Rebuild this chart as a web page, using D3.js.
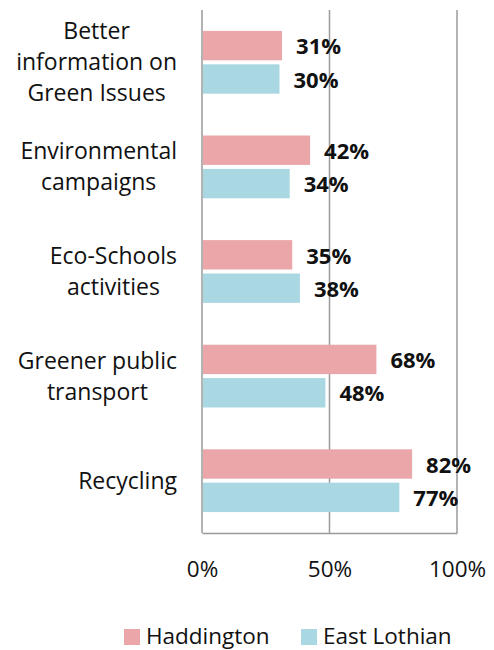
<!DOCTYPE html>
<html>
<head>
<meta charset="utf-8">
<script src="https://cdn.jsdelivr.net/npm/d3@7"></script>
<style>
  html, body { margin: 0; padding: 0; background: #fff; }
  text { font-family: "Open Sans", sans-serif; fill: #111; }
</style>
</head>
<body>
<svg id="chart" width="494" height="650"></svg>
<script>
// Categories (each line of a label is one entry)
const categories = [
  ["Better", "information on", "Green Issues"],
  ["Environmental", "campaigns"],
  ["Eco-Schools", "activities"],
  ["Greener public", "transport"],
  ["Recycling"]
];
const seriesNames = ["Haddington", "East Lothian"];
const haddington = [31, 42, 35, 68, 82];
const eastLothian = [30, 34, 38, 48, 77];
const xTicks = [0, 50, 100];
const colors = ["#EAA6A8", "#A9D8E2"];

const svg = d3.select("#chart");
const margin = { top: 10, left: 202, right: 37, bottom: 117 };
const W = 494, H = 650;
const x = d3.scaleLinear().domain([0, 100]).range([margin.left, W - margin.right]);
const y = d3.scaleBand().domain(d3.range(categories.length))
  .range([margin.top, H - margin.bottom]).paddingInner(0.4).paddingOuter(0.2);
const ySub = d3.scaleBand().domain([0, 1]).range([0, y.bandwidth()]).paddingInner(0.12);

// Vertical gridlines
svg.append("g").selectAll("line").data(xTicks).join("line")
  .attr("x1", d => x(d)).attr("x2", d => x(d))
  .attr("y1", margin.top).attr("y2", H - margin.bottom)
  .attr("stroke", "#9a9a9a").attr("stroke-width", 1.5);

// Bottom axis
const xAxis = svg.append("g")
  .attr("transform", `translate(0,${H - margin.bottom})`)
  .call(d3.axisBottom(x).tickValues(xTicks).tickFormat(d => d + "%").tickSize(0));
xAxis.select(".domain").attr("stroke", "#9a9a9a").attr("stroke-width", 1.5);
xAxis.selectAll("text")
  .attr("y", 44).attr("dy", 0)
  .attr("font-size", 22.5).attr("font-family", "Open Sans, sans-serif").attr("fill", "#111");

const series = [haddington, eastLothian];
series.forEach((vals, s) => {
  const g = svg.append("g");
  g.selectAll("rect").data(vals).join("rect")
    .attr("x", x(0) + 1)
    .attr("y", (d, i) => y(i) + ySub(s))
    .attr("width", d => x(d) - x(0))
    .attr("height", ySub.bandwidth())
    .attr("fill", colors[s]);
  g.selectAll("text").data(vals).join("text")
    .attr("x", d => x(d) + 15)
    .attr("y", (d, i) => y(i) + ySub(s) + ySub.bandwidth() / 2 + 1)
    .attr("dy", "0.35em")
    .attr("font-size", 22).attr("font-weight", "bold")
    .text(d => d + "%");
});

// Category labels: each block centred on itself, block right edge at x = 177
categories.forEach((lines, i) => {
  const cy = y(i) + y.bandwidth() / 2;
  const lh = 31;
  const t = svg.append("text").attr("text-anchor", "middle").attr("font-size", 23);
  const spans = lines.map((ln, j) => t.append("tspan")
    .attr("y", cy + (j - (lines.length - 1) / 2) * lh)
    .attr("dy", "0.35em").text(ln));
  const maxW = d3.max(spans, sp => sp.node().getComputedTextLength());
  spans.forEach(sp => sp.attr("x", 177 - maxW / 2));
});

// Legend
const legend = svg.append("g");
const legendX = [124, 301];
seriesNames.forEach((n, s) => {
  legend.append("rect").attr("x", legendX[s]).attr("y", 629).attr("width", 16).attr("height", 16).attr("fill", colors[s]);
  legend.append("text").attr("x", legendX[s] + 22).attr("y", 644).attr("font-size", 22.5).text(n);
});
</script>
</body>
</html>
